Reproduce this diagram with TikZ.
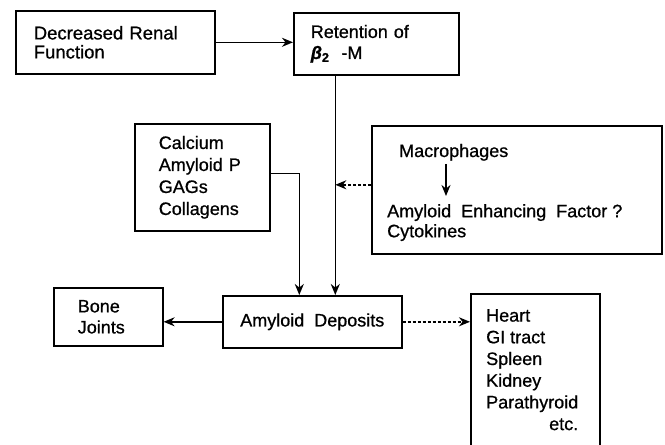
\documentclass[tikz,border=0pt]{standalone}
\usepackage{fontspec}
\setmainfont{Liberation Sans}[FakeBold=0.8]
\usetikzlibrary{arrows.meta}
\begin{document}
\begin{tikzpicture}[x=1pt,y=-1pt,
  box/.style={draw, line width=1.6pt, anchor=north west, align=left, inner ysep=0pt,
    font=\fontsize{18}{21}\selectfont},
  lbl/.style={inner sep=0pt, align=left, font=\fontsize{18}{21}\selectfont},
  conn/.style={line width=1.6pt, -{Stealth[length=11pt,width=9pt,inset=3.5pt]}},
  dconn/.style={conn, dash pattern=on 3pt off 2pt}]
\useasboundingbox (0,0) rectangle (665,445);
\clip (0,0) rectangle (665,445);

\node[box, minimum width=199pt, minimum height=63pt, text width=163pt, inner xsep=18pt,
  font=\fontsize{18.5}{19}\selectfont] (dec) at (15,10) {Decreased Renal\\Function};
\node[box, minimum width=165pt, minimum height=62pt, text width=131pt, inner xsep=17pt]
  (ret) at (293,12) {Retention of\\{\bfseries\itshape β}{\bfseries\textsubscript{2}}\ \ -M};
\node[box, minimum width=135pt, minimum height=107pt, text width=87pt, inner xsep=24pt,
  font=\fontsize{18}{22}\selectfont] (calc) at (134,123) {Calcium\\Amyloid P\\GAGs\\Collagens};
\node[box, minimum width=290pt, minimum height=128pt] (macro) at (371,125) {};
\node[lbl, anchor=base west] (mac) at (399,157) {Macrophages};
\node[lbl, anchor=north west, font=\fontsize{18}{20}\selectfont] (aef) at (387,204)
  {Amyloid\ \ Enhancing\ \ Factor ?\\Cytokines};
\node[box, minimum width=179pt, minimum height=52pt, align=center] (amy) at (222,295)
  {Amyloid\ \ Deposits};
\node[box, minimum width=109pt, minimum height=58pt, text width=61pt, inner xsep=24pt]
  (bone) at (53,287) {Bone\\Joints};
\node[box, minimum width=129pt, minimum height=170pt] (org) at (470,293) {};
\node[lbl, anchor=north west, font=\fontsize{18}{21.7}\selectfont] (orgtxt) at (486,309)
  {Heart\\GI tract\\Spleen\\Kidney\\Parathyroid\\\hspace*{63pt}etc.};

\coordinate (rline) at ([xshift=-41pt]ret.south);
\coordinate (cx) at ([xshift=-13pt]amy.north);

\draw[conn] (dec.east) -- (ret.west |- dec.east);
\draw[conn] (rline) -- (rline |- amy.north);
\draw[conn] ([yshift=4pt]calc.east) -| (cx);
\draw[dconn] ([yshift=5pt]macro.west) -- ([yshift=5pt]macro.west -| rline);
\draw[conn, shorten <=3pt, shorten >=8pt] ([xshift=47pt]mac.south west) -- ([xshift=47pt]mac.south west |- aef.north);
\draw[conn] (amy.west) -- (bone.east |- amy.west);
\draw[dconn] (amy.east) -- (org.west |- amy.east);
\end{tikzpicture}
\end{document}
